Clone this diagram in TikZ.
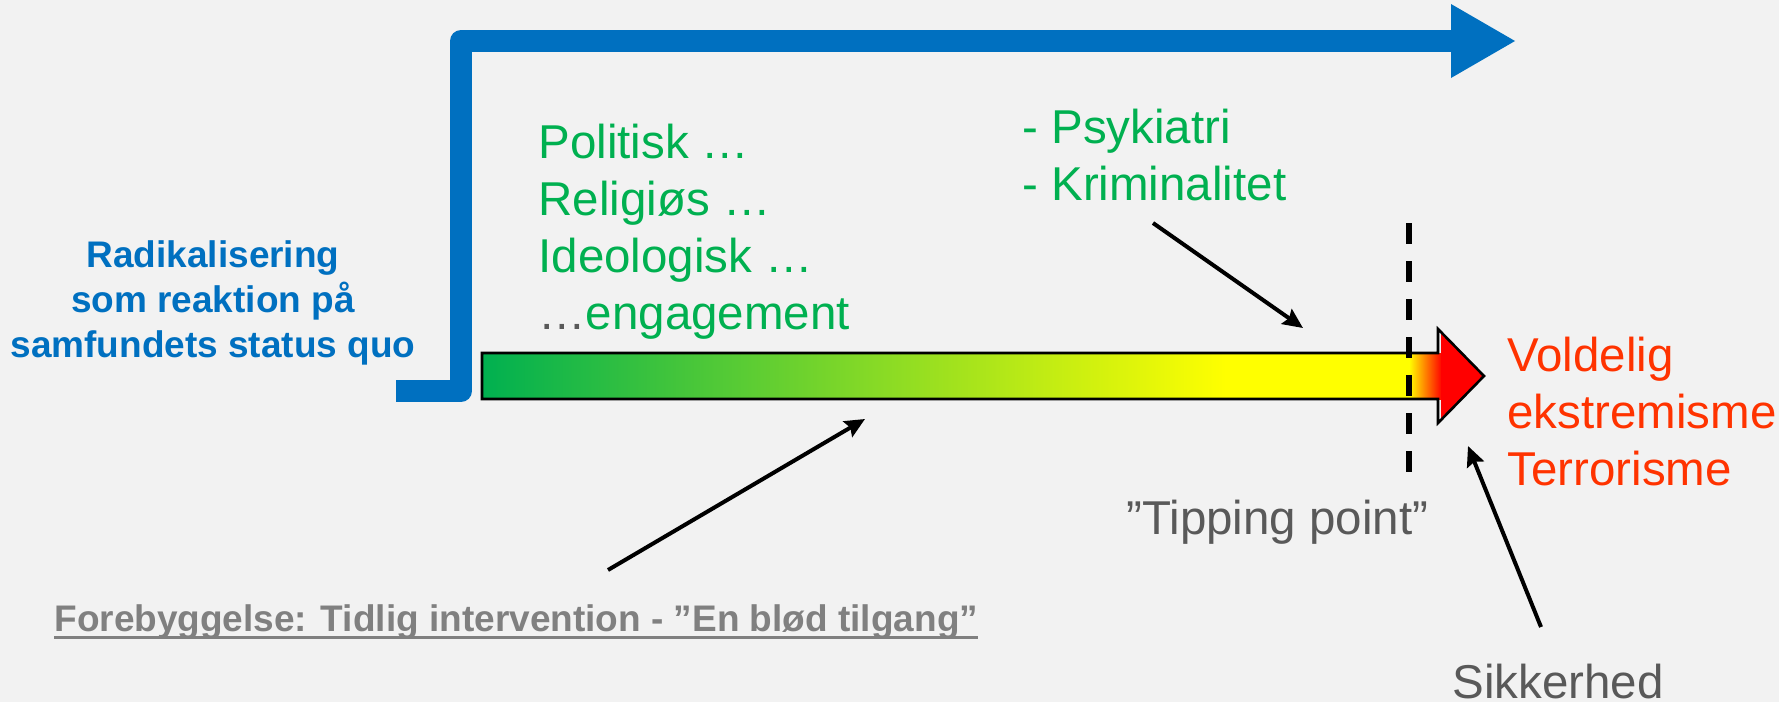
\documentclass[tikz,border=0pt]{standalone}
\usepackage{fontspec}
\setmainfont{Liberation Sans}
\usetikzlibrary{arrows.meta}

\definecolor{barblue}{HTML}{0070C0}
\definecolor{txtgreen}{HTML}{00B050}
\definecolor{txtred}{HTML}{FF3300}
\definecolor{txtgray}{HTML}{595959}
\definecolor{notegray}{HTML}{808080}
\definecolor{bggray}{HTML}{F2F2F2}
\definecolor{baryellow}{RGB}{255,255,0}

\begin{document}
\begin{tikzpicture}[
x=0.5pt,y=-0.5pt,
>={Stealth[length=10pt,width=9pt,inset=1.5pt]},
pointer/.style={->,line width=2pt,black},
label/.style={%
    inner sep=0pt,align=left,
    font=\fontsize{23.75}{28.5}\selectfont,
},
greenlist/.style={label,text=txtgreen},
redlist/.style={label,text=txtred},
graylabel/.style={label,text=txtgray},
bluelabel/.style={%
    inner sep=0pt,align=center,text=barblue,
    font=\fontsize{18.5}{22.5}\selectfont\bfseries,
},
notelabel/.style={%
    inner sep=0pt,text=notegray,
    font=\fontsize{18.5}{22.5}\selectfont\bfseries,
},
]
% Background
\fill[bggray] (0,0) rectangle (1779,702);
\useasboundingbox (0,0) rectangle (1779,702);

% Blue frame
\coordinate (stub)     at (396,391);
\coordinate (corner)   at (461,391);
\coordinate (bend)     at (461,41);
\coordinate (headbase) at (1452,41);
\draw[barblue,line width=11pt,line join=round] (stub) -- (corner) -- (bend) -- (headbase);
\fill[barblue] (1451,4) -- (1515,41) -- (1451,78) -- cycle;

% Gradient bar
\def\barpath{(482,353) -- (1438,353) -- (1438,329) -- (1484,376) -- (1438,423) -- (1438,399) -- (482,399) -- cycle}
\begin{scope}
\clip \barpath;
\shade[left color=txtgreen,right color=baryellow] (482,353) rectangle (1226,399);
\fill[baryellow] (1225,353) rectangle (1410,399);
\shade[left color=baryellow,right color=red] (1409,353) rectangle (1442,399);
\fill[red] (1441,320) rectangle (1490,430);
\end{scope}
\draw[line width=1.3pt,line join=miter] \barpath;

% Tipping point
\coordinate (tiptop) at (1409,223);
\coordinate (tipbot) at (1409,473);
\draw[line width=3pt,dash pattern=on 10.5pt off 8.5pt] (tiptop) -- (tipbot);

% Nodes (base = last line)
\node[bluelabel,anchor=base]       at (213,357)  (radical)    {Radikalisering\\som reaktion på\\samfundets status quo};
\node[greenlist,anchor=base west]  at (538,329)  (motives)    {Politisk …\\Religiøs …\\Ideologisk …\\{\color{txtgray}…}engagement};
\node[greenlist,anchor=base west]  at (1022,200) (care)       {- Psykiatri\\- Kriminalitet};
\node[redlist,anchor=base west]    at (1507,485) (violence)   {Voldelig\\ekstremisme\\Terrorisme};
\node[graylabel,anchor=base west]  at (1126,534) (tipping)    {”Tipping point”};
\node[graylabel,anchor=base west]  at (1452,698) (security)   {Sikkerhed};
\node[notelabel,anchor=base west]  at (54,631)   (prevention) {Forebyggelse: Tidlig intervention - ”En blød tilgang”};
\draw[notegray,line width=1.5pt] ([yshift=-3pt]prevention.base west) -- ([yshift=-3pt]prevention.base east);

% Pointers
\coordinate (psyfrom)  at (1153,223);
\coordinate (psyto)    at (1303,328);
\coordinate (prevfrom) at (608,570);
\coordinate (prevto)   at (865,419);
\coordinate (secfrom)  at (1541,627);
\coordinate (secto)    at (1468,446);
\draw[pointer] (psyfrom) -- (psyto);
\draw[pointer] (prevfrom) -- (prevto);
\draw[pointer] (secfrom) -- (secto);
\end{tikzpicture}
\end{document}
